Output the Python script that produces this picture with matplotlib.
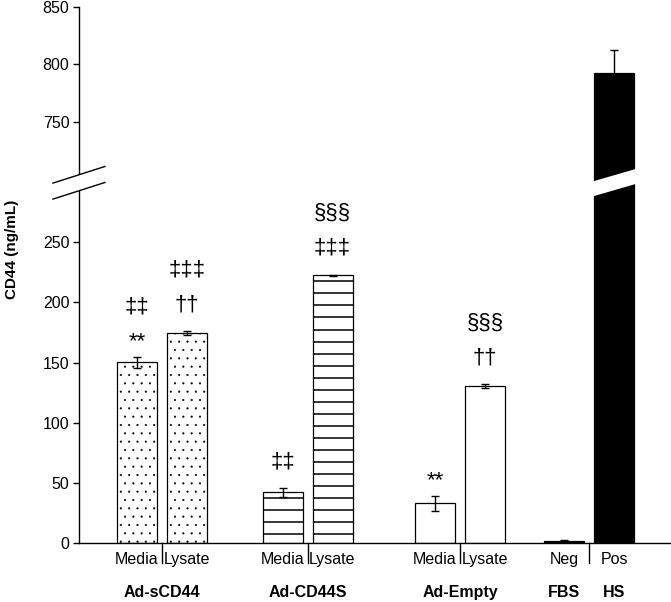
import numpy as np
import matplotlib
matplotlib.use('Agg')
import matplotlib.pyplot as plt
from matplotlib.patches import Polygon
from matplotlib.transforms import IdentityTransform

plt.rcParams['font.family'] = ['Liberation Sans', 'DejaVu Sans']
plt.rcParams['hatch.linewidth'] = 0.3

# data
groups = ['Ad-sCD44', 'Ad-CD44S', 'Ad-Empty', 'FBS', 'HS']
sub_labels = ['Media', 'Lysate', 'Media', 'Lysate', 'Media', 'Lysate', 'Neg', 'Pos']
values = [150.3, 174.5, 42.0, 222.5, 32.8, 130.6, 1.5, 792.0]
errors = [4.5, 1.5, 3.6, 0.6, 6.2, 1.5, 0.5, 20.0]
marks = [['**', '‡‡'], ['††', '‡‡‡'], ['‡‡'], ['‡‡‡', '§§§'],
         ['**'], ['††', '§§§'], [], []]

# broken axis: lower 0..293, upper 704..850
L, U = 293.0, 704.0
k1, k2, gap = 1.2, 1.15, 16.0


def fwd(v):
    v = np.asarray(v, dtype=float)
    return np.where(v <= L, v * k1,
                    np.where(v >= U, L * k1 + gap + (v - U) * k2,
                             L * k1 + (v - L) / (U - L) * gap))


def inv(f):
    f = np.asarray(f, dtype=float)
    a = L * k1
    b = a + gap
    return np.where(f <= a, f / k1,
                    np.where(f >= b, U + (f - b) / k2,
                             L + (f - a) / gap * (U - L)))


fig = plt.figure(figsize=(6.71, 6.02), dpi=100)
ax = fig.add_axes([79 / 671, 59.3 / 602, 592 / 671, 536 / 602])
ax.set_yscale('function', functions=(fwd, inv))
ax.set_ylim(0, 850)
ax.set_xlim(0, 11.84)

centers = [1.66, 4.57, 7.62, 10.2]
xs = []
for c in centers:
    xs += [c - 0.5, c + 0.5]

face = ['white'] * 6 + ['black', 'black']
hatch = ['..', '..', None, None, None, None, None, None]
bars = ax.bar(xs, values, width=0.8, color=face, edgecolor='black',
              linewidth=0.9, zorder=2)
for b, h in zip(bars, hatch):
    if h:
        b.set_hatch(h)

# horizontal stripes for Ad-CD44S bars
for i in [2, 3]:
    lc = ax.hlines(np.arange(7.5, values[i], 10), 0, 11.84, color='black',
                   linewidth=1.1, zorder=3)
    lc.set_clip_path(bars[i])

ax.errorbar(xs, values, yerr=errors, fmt='none', ecolor='black',
            elinewidth=1.0, capsize=3, capthick=1.0, zorder=4)

# significance marks
for x, v, e, m in zip(xs, values, errors, marks):
    off = 11 if (m and m[0].startswith('*')) else 19
    for s in m:
        ax.annotate(s, xy=(x, v + e), xytext=(0, off), textcoords='offset points',
                    ha='center', va='center', fontsize=16)
        off += 25

ax.spines['top'].set_visible(False)
ax.spines['right'].set_visible(False)
ax.spines['left'].set_linewidth(1.0)
ax.spines['bottom'].set_linewidth(1.0)
ax.set_yticks([0, 50, 100, 150, 200, 250, 750, 800, 850])
ax.set_yticklabels(['0', '50', '100', '150', '200', '250', '750', '800', '850'])
ax.tick_params(axis='y', direction='out', length=4, width=1.0, labelsize=11.5, pad=3)
ax.set_xticks([])

# category and group labels
for x, s in zip(xs, sub_labels):
    ax.annotate(s, xy=(x, 0), xycoords=('data', 'axes fraction'), xytext=(0, -12),
                textcoords='offset points', ha='center', va='center', fontsize=11.5)
grp_x = centers[:3] + [xs[6], xs[7]]
for x, s in zip(grp_x, groups):
    ax.annotate(s, xy=(x, 0), xycoords=('data', 'axes fraction'), xytext=(0, -35.5),
                textcoords='offset points', ha='center', va='center', fontsize=11.5,
                fontweight='bold')
for c in centers:
    ax.plot([c, c], [0, -0.0373], transform=ax.get_xaxis_transform(),
            color='black', linewidth=1.0, clip_on=False)

fig.text(12 / 671, 1 - 249 / 602, 'CD44 (ng/mL)', rotation=90, ha='center',
         va='center', fontsize=11, fontweight='bold')

# axis break marks
fig.canvas.draw()
mid = (L + U) / 2
x0, y0 = ax.transData.transform((0, mid))
half, slope, hw = 26, 0.32, 8
band = [(x0 - half, y0 - hw - slope * half), (x0 + half, y0 - hw + slope * half),
        (x0 + half, y0 + hw + slope * half), (x0 - half, y0 + hw - slope * half)]
fig.add_artist(Polygon(band, closed=True, facecolor='white', edgecolor='none',
                       transform=IdentityTransform(), zorder=5))
for d in (-hw, hw):
    fig.add_artist(plt.Line2D([x0 - half, x0 + half],
                              [y0 + d - slope * half, y0 + d + slope * half],
                              color='black', linewidth=1.0,
                              transform=IdentityTransform(), zorder=6))

xb, yb = ax.transData.transform((xs[7], mid))
half_b, slope_b, hw_b = 26, 0.29, 7.5
band_b = [(xb - half_b, yb - hw_b - slope_b * half_b), (xb + half_b, yb - hw_b + slope_b * half_b),
          (xb + half_b, yb + hw_b + slope_b * half_b), (xb - half_b, yb + hw_b - slope_b * half_b)]
fig.add_artist(Polygon(band_b, closed=True, facecolor='white', edgecolor='none',
                       transform=IdentityTransform(), zorder=5))

fig.savefig('out.png', dpi=100)
